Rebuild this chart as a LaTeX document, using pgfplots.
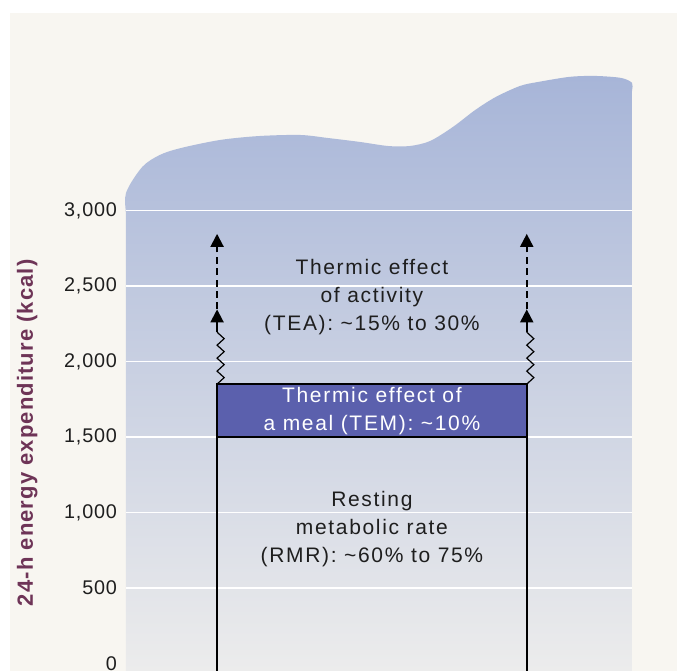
\documentclass[border=0pt]{standalone}
\usepackage{fontspec}
\setmainfont{Liberation Sans}
\newfontfamily\chartfont[LetterSpace=8]{Liberation Sans}
\newfontfamily\tickfont[LetterSpace=4]{Liberation Sans}
\newfontfamily\labfont[LetterSpace=5]{Liberation Sans}
\usepackage{pgfplots}
\pgfplotsset{compat=1.18}
\usetikzlibrary{arrows.meta}

\definecolor{pagecol}{HTML}{F8F6F1}
\definecolor{areatop}{HTML}{A7B5D8}
\definecolor{areabot}{HTML}{ECECEC}
\definecolor{temblue}{HTML}{5B60AD}
\definecolor{labelcol}{HTML}{6E3457}
\definecolor{textcol}{HTML}{1E1E1E}

\begin{document}
\begin{tikzpicture}
% paper
\fill[white] (0pt,0pt) rectangle (338.5pt,335.5pt);
\fill[pagecol] (5pt,0pt) rectangle (338.5pt,329pt);
\begin{axis}[
  at={(63pt,0pt)}, anchor=south west,
  scale only axis, width=253pt, height=335.5pt,
  xmin=0, xmax=10, ymin=-50, ymax=4394,
  clip=false,
  axis line style={draw=none},
  xtick=\empty,
  ytick={0,500,...,3000},
  major tick length=0pt,
  /pgf/number format/assume math mode=true,
  yticklabel style={font=\tickfont\fontsize{9.9}{11}\selectfont, text=textcol, xshift=-1pt},
  ylabel={24-h energy expenditure (kcal)},
  ylabel style={at={(axis description cs:-0.195,0.355)}, anchor=center,
    font=\labfont\bfseries\fontsize{11}{13}\selectfont, text=labelcol},
]
% shaded backdrop with wavy top (straight sides, smooth crest)
\addplot[draw=none, top color=areatop, bottom color=areabot, smooth, tension=0.5]
  coordinates {
  (0,-50) (0,1400) (0,2600) (0,2950) (0,3116) (0.32,3288) (0.67,3368)
  (1.09,3414) (1.86,3467) (2.63,3493) (3.44,3500) (3.99,3480) (4.62,3454)
  (5.18,3427) (5.61,3427) (6.01,3460) (6.46,3553) (6.90,3665) (7.31,3752)
  (7.79,3825) (8.16,3852) (8.77,3885) (9.27,3891) (9.78,3878) (10,3845)
  (10,3790) (10,3680) (10,3400) (10,2800) (10,1400) (10,-50)
  } -- cycle;

% white grid lines across the backdrop
\pgfplotsinvokeforeach{500,1000,1500,2000,2500,3000}{
  \addplot[white, line width=0.6pt] coordinates {(0,#1) (10,#1)};
}

% RMR walls
\addplot[black, line width=1pt] coordinates {(1.8,-50) (1.8,1850)};
\addplot[black, line width=1pt] coordinates {(7.92,-50) (7.92,1850)};

% TEM block
\addplot[fill=temblue, draw=black, line width=0.9pt]
  coordinates {(1.8,1500) (7.92,1500) (7.92,1850) (1.8,1850) (1.8,1500)} -- cycle;

% zigzags
\addplot[black, line width=0.6pt] coordinates {
  (1.8,1850) (1.94,1893) (1.8,1936) (1.94,1979) (1.8,2022)
  (1.94,2065) (1.8,2108) (1.94,2151) (1.8,2194)};
\addplot[black, line width=0.6pt] coordinates {
  (7.92,1850) (8.06,1893) (7.92,1936) (8.06,1979) (7.92,2022)
  (8.06,2065) (7.92,2108) (8.06,2151) (7.92,2194)};

% TEA arrows
\addplot[black, line width=1pt, -{Triangle[width=6.5pt,length=6.5pt]}]
  coordinates {(1.8,2194) (1.8,2345)};
\addplot[black, line width=1pt, -{Triangle[width=6.5pt,length=6.5pt]}]
  coordinates {(7.92,2194) (7.92,2345)};
\addplot[black, line width=1pt, dash pattern=on 3.5pt off 2.2pt, -{Triangle[width=6.5pt,length=6.5pt]}]
  coordinates {(1.8,2345) (1.8,2845)};
\addplot[black, line width=1pt, dash pattern=on 3.5pt off 2.2pt, -{Triangle[width=6.5pt,length=6.5pt]}]
  coordinates {(7.92,2345) (7.92,2845)};

% labels
\node[align=center, text=textcol, font=\chartfont\fontsize{10.5}{14}\selectfont]
  at (axis cs:4.86,2427) {Thermic effect\\of activity\\(TEA): \textasciitilde15\% to 30\%};
\node[align=center, text=white, font=\chartfont\fontsize{10.5}{14}\selectfont]
  at (axis cs:4.86,1672) {Thermic effect of\\a meal (TEM): \textasciitilde10\%};
\node[align=center, text=textcol, font=\chartfont\fontsize{10.5}{14}\selectfont]
  at (axis cs:4.86,891) {Resting\\metabolic rate\\(RMR): \textasciitilde60\% to 75\%};
\end{axis}
\pgfresetboundingbox
\useasboundingbox (0pt,0pt) rectangle (338.5pt,335.5pt);
\end{tikzpicture}
\end{document}
